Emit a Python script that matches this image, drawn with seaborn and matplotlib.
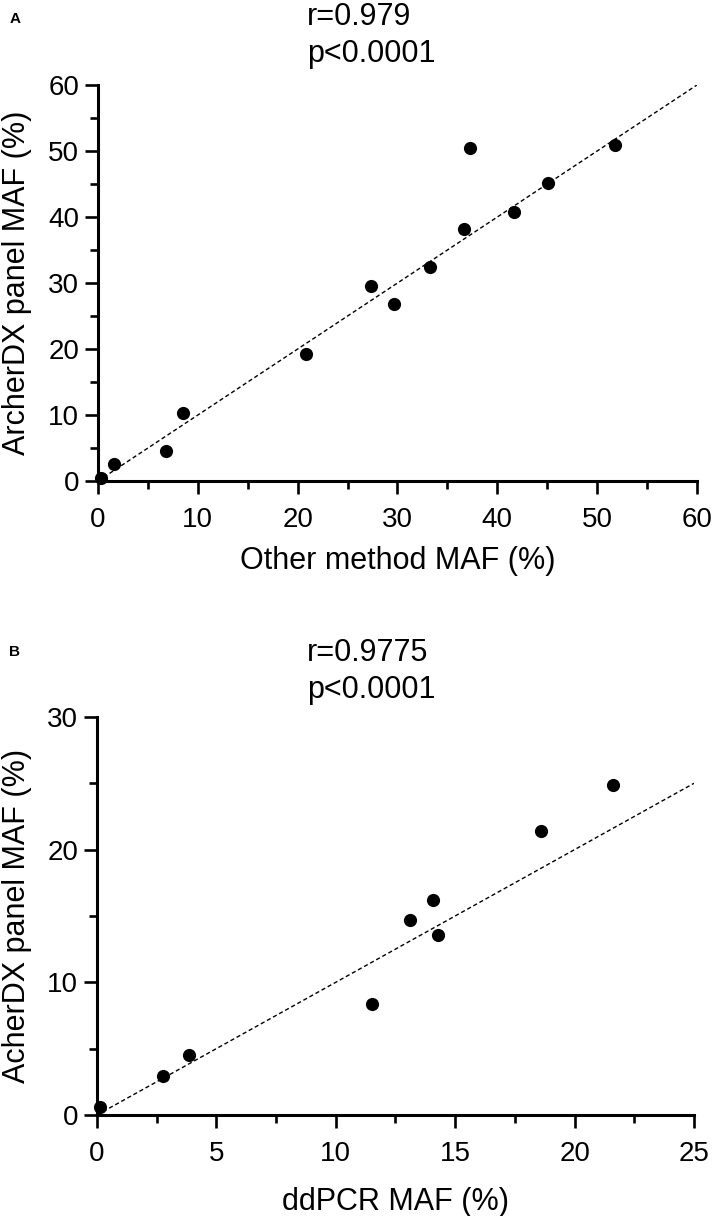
import matplotlib
matplotlib.use("Agg")
import matplotlib.pyplot as plt
from matplotlib.ticker import MultipleLocator
import pandas as pd
import seaborn as sns

# panel A: other method vs ArcherDX
other_maf = [0.3, 1.6, 6.8, 8.5, 20.8, 27.3, 29.7, 33.3, 36.7, 37.3, 41.7, 45.1, 51.8]
archer_maf_a = [0.4, 2.6, 4.6, 10.3, 19.2, 29.5, 26.8, 32.5, 38.2, 50.5, 40.8, 45.1, 50.9]

# panel B: ddPCR vs ArcherDX
ddpcr_maf = [0.14, 2.78, 3.86, 11.5, 13.1, 14.07, 14.28, 18.6, 21.6]
archer_maf_b = [0.6, 2.95, 4.55, 8.35, 14.7, 16.2, 13.6, 21.4, 24.9]

sns.set_style("ticks")
plt.rcParams["font.family"] = ["Liberation Sans", "DejaVu Sans"]
plt.rcParams["text.color"] = "black"
plt.rcParams["axes.labelcolor"] = "black"
plt.rcParams["xtick.color"] = "black"
plt.rcParams["ytick.color"] = "black"

fig = plt.figure(figsize=(7.12, 12.16), dpi=100)
ax_a = fig.add_axes([0.1376, 0.6044, 0.8413, 0.3257])
ax_b = fig.add_axes([0.1362, 0.0831, 0.8385, 0.3273])


def style_axis(ax, lim_x, lim_y, maj_x, maj_y):
    ax.set_xlim(0, lim_x)
    ax.set_ylim(0, lim_y)
    ax.xaxis.set_major_locator(MultipleLocator(maj_x))
    ax.xaxis.set_minor_locator(MultipleLocator(maj_x / 2))
    ax.yaxis.set_major_locator(MultipleLocator(maj_y))
    ax.yaxis.set_minor_locator(MultipleLocator(maj_y / 2))
    for side in ["top", "right"]:
        ax.spines[side].set_visible(False)
    for side in ["left", "bottom"]:
        ax.spines[side].set_linewidth(2.2)
        ax.spines[side].set_color("black")
    ax.tick_params(which="both", direction="out", width=1.9, color="black")
    ax.tick_params(which="major", length=9.5, labelsize=20)
    ax.tick_params(axis="x", which="major", pad=9)
    ax.tick_params(axis="y", which="major", pad=4)
    ax.tick_params(which="minor", length=6)
    ax.axline((0, 0), slope=1, color="black", lw=1, ls=(0, (3, 2)), zorder=1)


df_a = pd.DataFrame({"x": other_maf, "y": archer_maf_a})
df_b = pd.DataFrame({"x": ddpcr_maf, "y": archer_maf_b})

for ax, df, lx, ly, mx, my in [(ax_a, df_a, 60, 60, 10, 10), (ax_b, df_b, 25, 30, 5, 10)]:
    style_axis(ax, lx, ly, mx, my)
    sns.scatterplot(data=df, x="x", y="y", ax=ax, color="black", s=90,
                    edgecolor="black", linewidth=0, clip_on=False, zorder=3)

ax_a.set_xlabel("Other method MAF (%)", fontsize=22)
ax_a.set_ylabel("ArcherDX panel MAF (%)", fontsize=22)
ax_b.set_xlabel("ddPCR MAF (%)", fontsize=22)
ax_b.set_ylabel("AcherDX panel MAF (%)", fontsize=22)
ax_a.xaxis.set_label_coords(0.5, -0.165)
ax_b.xaxis.set_label_coords(0.5, -0.18)
ax_a.yaxis.set_label_coords(-0.11, 0.5)
ax_b.yaxis.set_label_coords(-0.109, 0.5)

# stats text, two lines each
fig.text(0.431, 1 - 25 / 1216, "r=0.979", fontsize=22, ha="left", va="baseline")
fig.text(0.431, 1 - 62 / 1216, "p<0.0001", fontsize=22, ha="left", va="baseline")
fig.text(0.431, 1 - 661 / 1216, "r=0.9775", fontsize=22, ha="left", va="baseline")
fig.text(0.431, 1 - 698 / 1216, "p<0.0001", fontsize=22, ha="left", va="baseline")
fig.text(0.021, 1 - 19 / 1216, "A", fontsize=11, fontweight="bold", ha="center", va="center")
fig.text(0.021, 1 - 652 / 1216, "B", fontsize=11, fontweight="bold", ha="center", va="center")

fig.savefig("out.png", dpi=100)
